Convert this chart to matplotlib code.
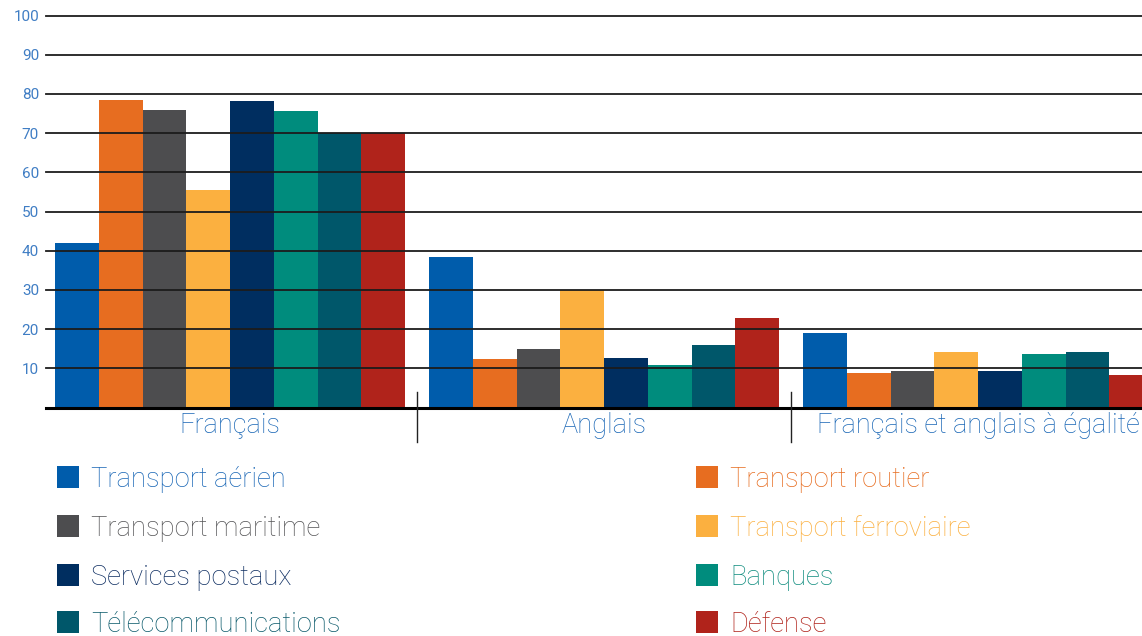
import matplotlib
matplotlib.use("Agg")
import matplotlib.pyplot as plt
from matplotlib.patches import Rectangle
import matplotlib.transforms as mtransforms

plt.rcParams['font.family'] = ['Roboto', 'DejaVu Sans']

groups = ["Français", "Anglais", "Français et anglais à égalité"]
series = ["Transport aérien", "Transport routier", "Transport maritime",
          "Transport ferroviaire", "Services postaux", "Banques",
          "Télécommunications", "Défense"]
colors = ["#005CAB", "#E76D20", "#4D4D4F", "#FBB040",
          "#002E60", "#008C7D", "#00576A", "#B0231B"]
text_colors = ["#1A67B6", "#E76D20", "#555557", "#FBB040",
               "#0E2E62", "#0E8C7E", "#0B5A6B", "#B0231B"]
values = {
    "Transport aérien":      [42.0, 38.4, 19.0],
    "Transport routier":     [78.5, 12.4, 8.8],
    "Transport maritime":    [76.0, 14.9, 9.3],
    "Transport ferroviaire": [55.5, 30.0, 14.2],
    "Services postaux":      [78.1, 12.6, 9.3],
    "Banques":               [75.6, 10.8, 13.6],
    "Télécommunications":    [70.0, 15.9, 14.2],
    "Défense":               [70.0, 22.8, 8.3],
}
yticks = [10, 20, 30, 40, 50, 60, 70, 80, 90, 100]

W, H = 1142, 636
fig = plt.figure(figsize=(W / 100, H / 100), dpi=100)
ax = fig.add_axes([46 / W, (H - 407.5) / H, (W - 46) / W, 392 / H])

step = 8.549
for i, s in enumerate(series):
    xs = [g * step + i for g in range(len(groups))]
    ax.bar(xs, values[s], width=1.0, color=colors[i], zorder=1, linewidth=0)

ax.set_ylim(0, 100)
ax.set_xlim(-0.706, 24.345)
ax.set_yticks(yticks)
ax.set_yticklabels([str(t) for t in yticks])
ax.tick_params(axis='y', length=0, pad=5, labelsize=11, labelcolor="#3F7DC4")
ax.set_xticks([])
for sp in ax.spines.values():
    sp.set_visible(False)
for t in yticks:
    ax.axhline(t, color="#1c1c1c", lw=1.3, zorder=3, clip_on=False)
ax.axhline(0, color="#000000", lw=2.2, zorder=4, clip_on=False)

trans = mtransforms.blended_transform_factory(ax.transData, ax.transAxes)
for g, name in enumerate(groups):
    ax.text(g * step + 3.5, -0.065, name, transform=trans, ha='center',
            va='baseline', fontsize=19.5, color="#1A67B6", fontweight='light',
            clip_on=False)
for g in range(len(groups) - 1):
    xsep = g * step + 7.5 + (step - 8) / 2
    ax.plot([xsep, xsep], [0.0395, -0.088], transform=trans, color="#222222",
            lw=1.0, clip_on=False, zorder=5)

# legend
col_sq_x = [57, 696]
col_tx_x = [91, 730]
row_y = [477, 526, 575, 622]
for i, s in enumerate(series):
    c, r = i % 2, i // 2
    cy = row_y[r]
    fig.add_artist(Rectangle((col_sq_x[c] / W, (H - cy - 11) / H), 22 / W, 22 / H,
                             transform=fig.transFigure, color=colors[i], lw=0))
    fig.text(col_tx_x[c] / W, (H - cy - 10) / H, s, ha='left', va='baseline',
             fontsize=19.7, color=text_colors[i], fontweight='light')

fig.savefig("out.png", dpi=100)
